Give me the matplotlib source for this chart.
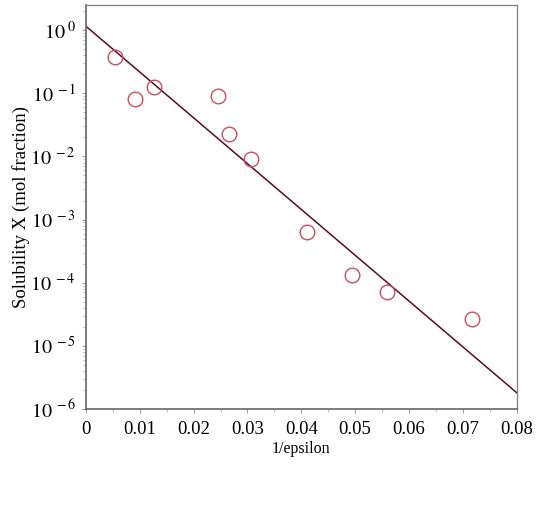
import matplotlib
matplotlib.use("Agg")
import matplotlib.pyplot as plt
import numpy as np
from matplotlib.ticker import LogLocator, MultipleLocator

plt.rcParams['font.family'] = ['Liberation Serif', 'DejaVu Serif']
plt.rcParams['mathtext.fontset'] = 'stix'

inv_eps = [0.0054, 0.0091, 0.0127, 0.0246, 0.0265, 0.0307, 0.0411, 0.0494, 0.0559, 0.0717]
solubility = [0.378, 0.080, 0.127, 0.091, 0.0226, 0.0090, 6.3e-4, 1.31e-4, 7.1e-5, 2.7e-5]
fit_x = [0.0, 0.08]
fit_y = [1.16, 1.8e-6]
x_ticks = [0, 0.01, 0.02, 0.03, 0.04, 0.05, 0.06, 0.07, 0.08]
x_tick_labels = ['0', '0.01', '0.02', '0.03', '0.04', '0.05', '0.06', '0.07', '0.08']
y_exps = [0, -1, -2, -3, -4, -5, -6]

fig = plt.figure(figsize=(5.40, 5.13), dpi=100)
ax = fig.add_axes([0.159, 0.203, 0.798, 0.787])

ax.plot(fit_x, fit_y, color='#5a0a28', lw=1.1, zorder=2)
ax.plot(inv_eps, solubility, linestyle='none', marker='o', markersize=10.5,
        markerfacecolor='none', markeredgecolor='#c8505c', markeredgewidth=1.0, zorder=3)

ax.set_yscale('log')
ax.set_xlim(0, 0.08)
ax.set_ylim(1e-6, 2.5)

ax.set_xticks(x_ticks)
ax.set_xticklabels(x_tick_labels, fontsize=13.5)
ax.xaxis.set_minor_locator(MultipleLocator(0.005))
ax.set_yticks([10.0**e for e in y_exps])
ax.set_yticklabels([r'$10^{\;%s}$' % (('-' + str(-e)) if e < 0 else str(e)) for e in y_exps], fontsize=14.5)
ax.yaxis.set_minor_locator(LogLocator(base=10, subs=np.arange(2, 10)))

ax.tick_params(axis='both', which='major', direction='out', length=3, width=0.6, color='#888888')
ax.tick_params(axis='x', which='major', pad=6)
ax.tick_params(axis='y', which='major', pad=4)
ax.tick_params(axis='both', which='minor', direction='out', length=2, width=0.5, color='#aaaaaa')
ax.tick_params(axis='y', which='minor', labelleft=False)

for s in ['left', 'bottom']:
    ax.spines[s].set_color('#666666')
    ax.spines[s].set_linewidth(1.2)
for s in ['top', 'right']:
    ax.spines[s].set_color('#888888')
    ax.spines[s].set_linewidth(1.0)

ax.set_xlabel('1/epsilon', fontsize=11.5, labelpad=2)
ax.set_ylabel('Solubility X (mol fraction)', fontsize=13.5, labelpad=0)

fig.savefig('out.png', dpi=100)
